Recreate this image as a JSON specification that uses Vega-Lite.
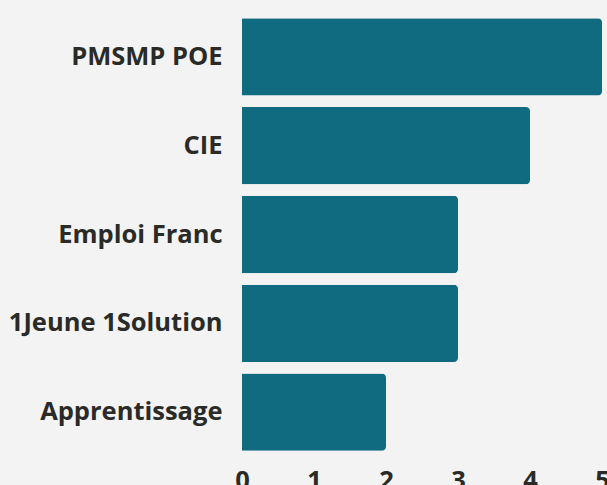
{
  "$schema": "https://vega.github.io/schema/vega-lite/v6.json",
  "autosize": {"type": "none"},
  "padding": {"left": 242, "top": 12.5, "right": 5, "bottom": 28},
  "width": 360,
  "height": 444,
  "background": "#f3f3f3",
  "config": {
    "view": {"stroke": null},
    "font": "Open Sans",
    "axis": {"labelFont": "Open Sans", "labelFontWeight": "bold", "labelFontSize": 25.5, "labelColor": "#2a2a26", "domain": false, "ticks": false, "grid": false, "title": null}
  },
  "data": {"values": [
    {"dispositif": "PMSMP POE", "n": 5},
    {"dispositif": "CIE", "n": 4},
    {"dispositif": "Emploi Franc", "n": 3},
    {"dispositif": "1Jeune 1Solution", "n": 3},
    {"dispositif": "Apprentissage", "n": 2}
  ]},
  "mark": {"type": "bar", "color": "#106a80", "cornerRadiusEnd": 4},
  "encoding": {
    "y": {"field": "dispositif", "type": "nominal", "sort": null, "scale": {"paddingInner": 0.13, "paddingOuter": 0.065}, "axis": {"labelPadding": 20, "labelLimit": 300}},
    "x": {"field": "n", "type": "quantitative", "scale": {"domain": [0, 5], "nice": false}, "axis": {"values": [0, 1, 2, 3, 4, 5], "labelPadding": 12, "labelFlush": false}}
  }
}
